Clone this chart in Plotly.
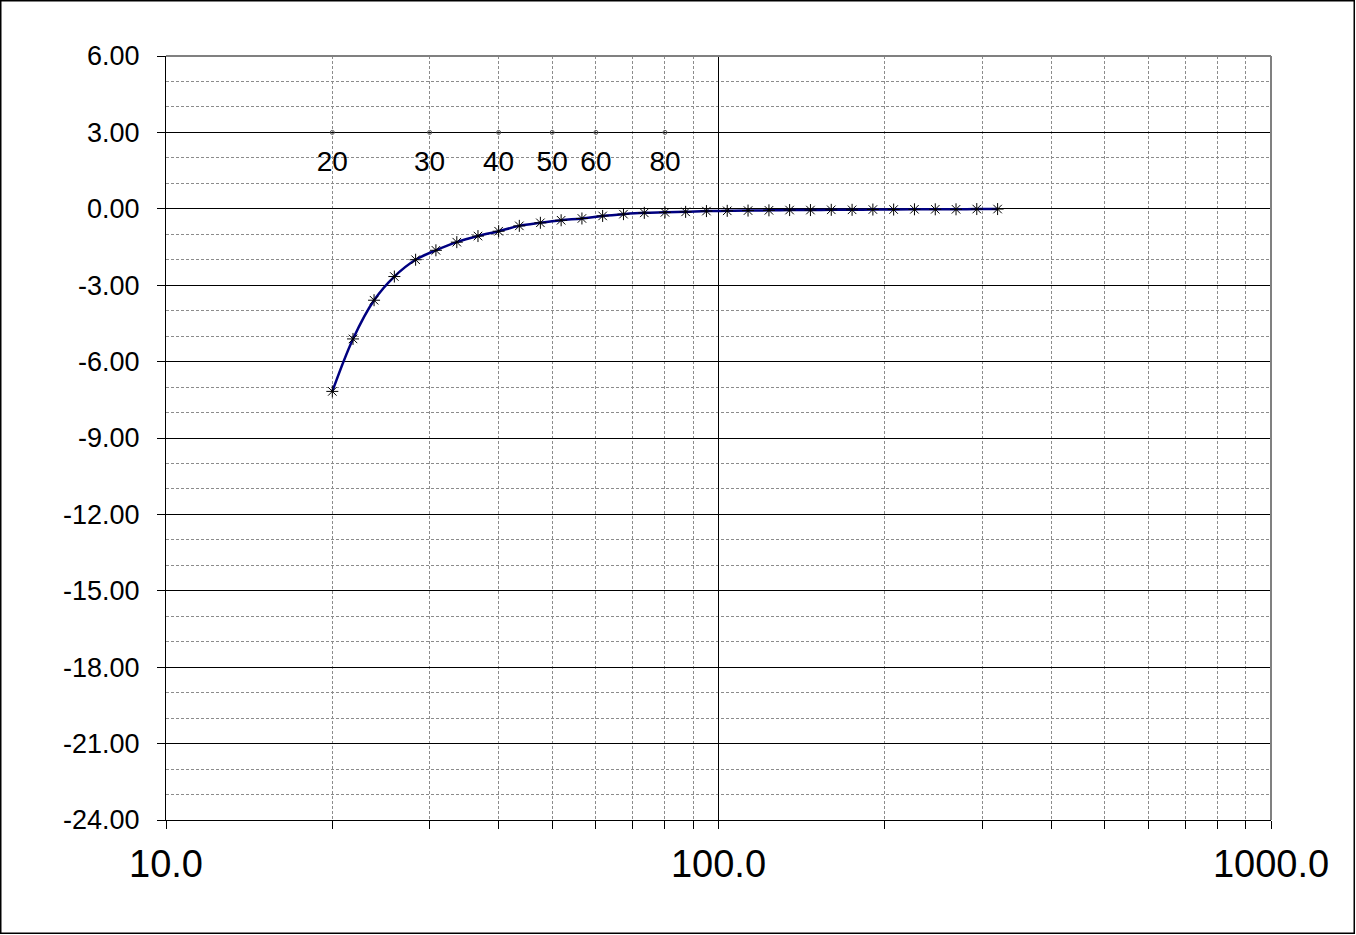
import plotly.graph_objects as go

# Frequency response data (1/8-octave points)
freq = [20.0, 21.8, 23.8, 25.9, 28.3, 30.8, 33.6, 36.7, 40.0, 43.6, 47.6, 51.9,
        56.6, 61.7, 67.3, 73.4, 80.0, 87.2, 95.1, 103.7, 113.1, 123.4, 134.5,
        146.7, 160.0, 174.5, 190.3, 207.5, 226.3, 246.8, 269.1, 293.4, 320.0]
gain_db = [-7.17, -5.11, -3.59, -2.66, -2.00, -1.63, -1.31, -1.07, -0.88, -0.67,
           -0.55, -0.45, -0.38, -0.28, -0.21, -0.16, -0.14, -0.12, -0.09, -0.08,
           -0.07, -0.06, -0.05, -0.05, -0.04, -0.04, -0.03, -0.03, -0.02, -0.02,
           -0.02, -0.01, -0.01]

# Reference frequency markers
ref_freq = [20, 30, 40, 50, 60, 80]
ref_level = [3, 3, 3, 3, 3, 3]
ref_labels = ["20", "30", "40", "50", "60", "80"]

# Axis ticks
y_ticks = [-24, -21, -18, -15, -12, -9, -6, -3, 0, 3, 6]
y_ticktext = ["-24.00", "-21.00", "-18.00", "-15.00", "-12.00", "-9.00",
              "-6.00", "-3.00", "0.00", "3.00", "6.00"]
x_ticks = [10, 100, 1000]
x_ticktext = ["10.0", "100.0", "1000.0"]
x_minor = [20, 30, 40, 50, 60, 70, 80, 90, 200, 300, 400, 500, 600, 700, 800, 900]

FONT = "Liberation Sans, Arial, sans-serif"
GRID_MINOR = "#8c8c8c"

fig = go.Figure()
fig.add_trace(go.Scatter(
    x=freq, y=gain_db, mode="lines+markers",
    line=dict(color="#000080", width=2.5, shape="spline"),
    marker=dict(symbol="asterisk-open", size=10, color="black",
                line=dict(color="black", width=1)),
    showlegend=False, cliponaxis=False,
))
fig.add_trace(go.Scatter(
    x=ref_freq, y=ref_level, mode="markers",
    marker=dict(symbol="circle-open", size=4, color="#555555",
                line=dict(color="#555555", width=1)),
    showlegend=False,
))
fig.add_trace(go.Scatter(
    x=ref_freq, y=ref_level, mode="markers+text",
    text=ref_labels, textposition="bottom center",
    textfont=dict(family=FONT, size=28, color="black"),
    marker=dict(size=26, opacity=0, color="white"),
    showlegend=False, hoverinfo="skip",
))

W, H = 1356, 935
L, R, T, B = 166, 85, 56, 115
pw, ph = W - L - R, H - T - B

fig.update_layout(
    width=W, height=H,
    margin=dict(l=L, r=R, t=T, b=B, pad=0),
    paper_bgcolor="white", plot_bgcolor="white",
    font=dict(family=FONT, color="black"),
    xaxis=dict(
        type="log", range=[1, 3],
        tickmode="array", tickvals=x_ticks, ticktext=x_ticktext,
        tickfont=dict(size=38, family=FONT),
        showgrid=True, gridcolor="black", gridwidth=1,
        ticks="outside", ticklen=8, tickcolor="black",
        ticklabelstandoff=2,
        showline=True, linecolor="black", linewidth=1,
        zeroline=False,
        minor=dict(tickmode="array", tickvals=x_minor, showgrid=True,
                   gridcolor=GRID_MINOR, griddash="3px,2px", gridwidth=1,
                   ticks="outside", ticklen=8, tickcolor="black"),
    ),
    yaxis=dict(
        range=[-24, 6],
        tickmode="array", tickvals=y_ticks, ticktext=y_ticktext,
        tickfont=dict(size=27, family=FONT),
        showgrid=True, gridcolor="black", gridwidth=1,
        ticks="outside", ticklen=8, tickcolor="black",
        ticklabelstandoff=12,
        showline=True, linecolor="black", linewidth=1,
        zeroline=False,
        minor=dict(dtick=1, showgrid=True, gridcolor=GRID_MINOR,
                   griddash="3px,2px", gridwidth=1, ticks=""),
    ),
    shapes=[
        # gray top and right plot-area border
        dict(type="line", xref="paper", yref="paper", x0=0, x1=1, y0=1, y1=1,
             line=dict(color="#808080", width=2), layer="above"),
        dict(type="line", xref="paper", yref="paper", x0=1, x1=1, y0=0, y1=1,
             line=dict(color="#808080", width=2), layer="above"),
        # outer chart frame
        dict(type="rect", xref="paper", yref="paper",
             x0=(0.75 - L) / pw, x1=(W - 1.75 - L) / pw,
             y0=(T + ph - (H - 1.75)) / ph, y1=(T + ph - 0.75) / ph,
             line=dict(color="black", width=1.5), fillcolor="rgba(0,0,0,0)",
             layer="above"),
    ],
)

fig.write_html("out.html", config={"displayModeBar": False},
               post_script="document.body.style.margin='0';document.body.style.padding='0';")
